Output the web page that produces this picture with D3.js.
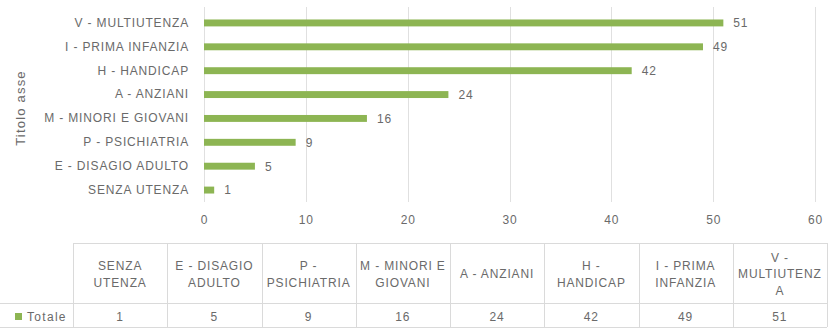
<!DOCTYPE html>
<html>
<head>
<meta charset="utf-8">
<script src="https://cdn.jsdelivr.net/npm/d3@7"></script>
<style>
  html, body { margin: 0; padding: 0; background: #fff; }
  svg { display: block; }
  text { font-family: "Liberation Sans", Arial, sans-serif; fill: #6a6a6a; }
</style>
</head>
<body>
<svg id="chart" width="833" height="331"></svg>
<script>
// Categories in table order (bottom bar first)
const categories = [
  "SENZA UTENZA",
  "E - DISAGIO ADULTO",
  "P - PSICHIATRIA",
  "M - MINORI E GIOVANI",
  "A - ANZIANI",
  "H - HANDICAP",
  "I - PRIMA INFANZIA",
  "V - MULTIUTENZA"
];
// Header text of each data-table column, split into lines
const tableHeaders = [
  ["SENZA", "UTENZA"],
  ["E - DISAGIO", "ADULTO"],
  ["P -", "PSICHIATRIA"],
  ["M - MINORI E", "GIOVANI"],
  ["A - ANZIANI"],
  ["H -", "HANDICAP"],
  ["I - PRIMA", "INFANZIA"],
  ["V -", "MULTIUTENZ", "A"]
];
const totals = [1, 5, 9, 16, 24, 42, 49, 51];
const xTicks = [0, 10, 20, 30, 40, 50, 60];
const seriesName = "Totale";
const axisTitle = "Titolo asse";

const green = "#8db553";
const gridColor = "#e0e0e0";
const tableLine = "#dadada";
const labelFont = 12;
const labelSpacing = 0.85;

const svg = d3.select("#chart");

// Plot area
const plot = { left: 204, right: 815, top: 11, bottom: 202 };

const x = d3.scaleLinear().domain([0, 60]).range([plot.left, plot.right]);
// Highest value on top: reverse the category order for the band scale
const y = d3.scaleBand()
  .domain(categories.slice().reverse())
  .range([plot.top, plot.bottom])
  .paddingInner(0.71)
  .paddingOuter(0.355);

// Vertical gridlines
svg.append("g")
  .selectAll("line")
  .data(xTicks)
  .join("line")
  .attr("x1", d => Math.round(x(d)) + 0.5)
  .attr("x2", d => Math.round(x(d)) + 0.5)
  .attr("y1", plot.top - 4)
  .attr("y2", plot.bottom)
  .attr("stroke", gridColor)
  .attr("stroke-width", 1);

// Bars
svg.append("g")
  .selectAll("rect")
  .data(categories.map((c, i) => ({ c, v: totals[i] })))
  .join("rect")
  .attr("x", x(0))
  .attr("y", d => y(d.c))
  .attr("width", d => x(d.v) - x(0))
  .attr("height", y.bandwidth())
  .attr("fill", green);

// Value labels at bar ends
svg.append("g")
  .selectAll("text")
  .data(categories.map((c, i) => ({ c, v: totals[i] })))
  .join("text")
  .attr("x", d => x(d.v) + 10)
  .attr("y", d => y(d.c) + y.bandwidth() / 2)
  .attr("dy", "0.36em")
  .attr("font-size", labelFont)
  .attr("letter-spacing", labelSpacing)
  .text(d => d.v);

// Category axis (left)
const yAxis = svg.append("g")
  .attr("transform", `translate(${plot.left - 15},0)`)
  .call(d3.axisLeft(y).tickSize(0).tickPadding(0));
yAxis.select(".domain").remove();
yAxis.selectAll("text")
  .attr("font-size", labelFont)
  .attr("letter-spacing", labelSpacing)
  .attr("font-family", "'Liberation Sans', Arial, sans-serif")
  .attr("fill", "#6a6a6a");

// Value axis labels (bottom of plot)
const xAxis = svg.append("g")
  .attr("transform", `translate(0,${plot.bottom + 13})`)
  .call(d3.axisBottom(x).tickValues(xTicks).tickSize(0).tickPadding(0));
xAxis.select(".domain").remove();
xAxis.selectAll("text")
  .attr("font-size", labelFont)
  .attr("letter-spacing", labelSpacing)
  .attr("font-family", "'Liberation Sans', Arial, sans-serif")
  .attr("fill", "#6a6a6a");

// Axis title, rotated
svg.append("text")
  .attr("transform", "translate(25,108) rotate(-90)")
  .attr("text-anchor", "middle")
  .attr("font-size", 13)
  .attr("letter-spacing", 1.2)
  .text(axisTitle);

// Data table below the chart
const table = { left: 73, right: 827, top: 243, mid: 303, bottom: 327 };
const col = d3.scaleBand()
  .domain(categories)
  .range([table.left, table.right]);

const tg = svg.append("g");
// Horizontal rules
[[table.left, table.top], [0, table.mid], [0, table.bottom]].forEach(([x0, yy]) => {
  tg.append("line")
    .attr("x1", x0).attr("x2", table.right)
    .attr("y1", yy + 0.5).attr("y2", yy + 0.5)
    .attr("stroke", tableLine);
});
// Vertical rules
const colEdges = categories.map(c => col(c)).concat([table.right]);
tg.selectAll("line.v")
  .data(colEdges)
  .join("line")
  .attr("class", "v")
  .attr("x1", d => Math.round(d) + 0.5)
  .attr("x2", d => Math.round(d) + 0.5)
  .attr("y1", table.top)
  .attr("y2", table.bottom)
  .attr("stroke", tableLine);

// Header cells
const lineH = 16.5;
categories.forEach((c, i) => {
  const lines = tableHeaders[i];
  const cx = col(c) + col.bandwidth() / 2;
  const cy = (table.top + table.mid) / 2 + 1;
  const t = tg.append("text")
    .attr("text-anchor", "middle")
    .attr("font-size", labelFont)
    .attr("letter-spacing", labelSpacing)
    .attr("x", cx);
  lines.forEach((ln, k) => {
    t.append("tspan")
      .attr("x", cx)
      .attr("y", cy + (k - (lines.length - 1) / 2) * lineH)
      .attr("dy", "0.36em")
      .text(ln);
  });
});

// Value cells
tg.selectAll("text.val")
  .data(categories.map((c, i) => ({ c, v: totals[i] })))
  .join("text")
  .attr("class", "val")
  .attr("text-anchor", "middle")
  .attr("font-size", labelFont)
  .attr("letter-spacing", labelSpacing)
  .attr("x", d => col(d.c) + col.bandwidth() / 2)
  .attr("y", (table.mid + table.bottom) / 2 + 1.5)
  .attr("dy", "0.36em")
  .text(d => d.v);

// Legend key and series name
tg.append("rect")
  .attr("x", 15).attr("y", 313)
  .attr("width", 7).attr("height", 7)
  .attr("fill", green);
tg.append("text")
  .attr("x", 27)
  .attr("y", (table.mid + table.bottom) / 2 + 1.5)
  .attr("dy", "0.36em")
  .attr("font-size", labelFont)
  .attr("letter-spacing", 1.3)
  .text(seriesName);
</script>
</body>
</html>
